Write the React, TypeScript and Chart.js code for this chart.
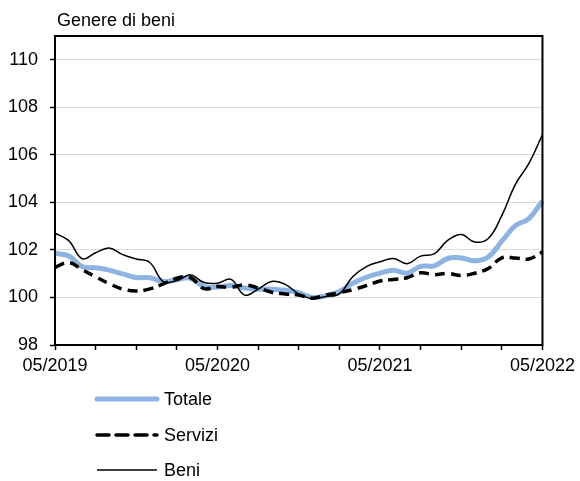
import React, { useEffect, useRef } from "react";
import { Chart, registerables } from "chart.js";

Chart.register(...registerables);

const months = [
  "05/2019", "06/2019", "07/2019", "08/2019", "09/2019", "10/2019", "11/2019", "12/2019",
  "01/2020", "02/2020", "03/2020", "04/2020", "05/2020", "06/2020", "07/2020", "08/2020",
  "09/2020", "10/2020", "11/2020", "12/2020", "01/2021", "02/2021", "03/2021", "04/2021",
  "05/2021", "06/2021", "07/2021", "08/2021", "09/2021", "10/2021", "11/2021", "12/2021",
  "01/2022", "02/2022", "03/2022", "04/2022", "05/2022",
];

const totale = [
  101.86, 101.75, 101.3, 101.25, 101.15, 100.99, 100.84, 100.83, 100.67, 100.75, 100.81, 100.46,
  100.44, 100.5, 100.4, 100.35, 100.35, 100.3, 100.2, 100.0, 100.07, 100.25, 100.6, 100.85,
  101.02, 101.15, 101.02, 101.31, 101.33, 101.64, 101.66, 101.54, 101.7, 102.37, 103.02, 103.32,
  104.06,
];

const servizi = [
  101.27, 101.47, 101.17, 100.87, 100.58, 100.35, 100.27, 100.36, 100.57, 100.81, 100.84, 100.37,
  100.46, 100.43, 100.53, 100.4, 100.22, 100.15, 100.1, 99.97, 100.1, 100.2, 100.33, 100.5,
  100.69, 100.76, 100.83, 101.04, 100.96, 101.01, 100.92, 101.02, 101.22, 101.67, 101.66, 101.62,
  101.91,
];

const beni = [
  102.7, 102.4, 101.63, 101.88, 102.08, 101.8, 101.62, 101.47, 100.67, 100.7, 100.95, 100.63,
  100.6, 100.76, 100.1, 100.35, 100.67, 100.55, 100.15, 99.95, 100.04, 100.15, 100.88, 101.3,
  101.5, 101.64, 101.42, 101.74, 101.83, 102.4, 102.65, 102.33, 102.48, 103.45, 104.76, 105.64,
  106.85,
];

const seriesNames = ["Totale", "Servizi", "Beni"];
const chartTitle = "Genere di beni";

const FONT = "'Liberation Sans', Arial, sans-serif";

const framePlugin = {
  id: "frameAndExtras",
  afterDraw(chart: any) {
    const { ctx, chartArea } = chart;
    ctx.save();
    // frame
    ctx.strokeStyle = "#000";
    ctx.lineWidth = 2;
    ctx.strokeRect(chartArea.left, chartArea.top, chartArea.right - chartArea.left, chartArea.bottom - chartArea.top);
    // title
    ctx.fillStyle = "#000";
    ctx.font = `18px ${FONT}`;
    ctx.textAlign = "left";
    ctx.textBaseline = "alphabetic";
    ctx.fillText(chartTitle, 57, 26);
    // legend
    const rows = [399, 435, 470];
    chart.data.datasets.forEach((ds: any, i: number) => {
      const y = rows[i];
      ctx.save();
      ctx.strokeStyle = ds.borderColor;
      ctx.lineWidth = ds.borderWidth;
      ctx.setLineDash(ds.legendDash || []);
      ctx.lineCap = ds.legendCap || "butt";
      ctx.beginPath();
      ctx.moveTo(97, y);
      ctx.lineTo(157, y);
      ctx.stroke();
      ctx.restore();
      ctx.fillStyle = "#000";
      ctx.font = `18px ${FONT}`;
      ctx.textBaseline = "middle";
      ctx.fillText(ds.label, 164, y + 1);
    });
    ctx.restore();
  },
};

export default function App() {
  const ref = useRef<HTMLCanvasElement>(null);

  useEffect(() => {
    if (!ref.current) return;
    const chart = new Chart(ref.current, {
      type: "line",
      data: {
        labels: months,
        datasets: [
          {
            label: seriesNames[0],
            data: totale,
            borderColor: "#8DB4E2",
            borderWidth: 5,
            pointRadius: 0,
            tension: 0.4,
            order: 3,
            legendCap: "round",
          } as any,
          {
            label: seriesNames[1],
            data: servizi,
            borderColor: "#000",
            borderWidth: 3.5,
            borderDash: [10, 6],
            pointRadius: 0,
            tension: 0.4,
            order: 2,
            legendDash: [12, 7],
            legendCap: "round",
          } as any,
          {
            label: seriesNames[2],
            data: beni,
            borderColor: "#000",
            borderWidth: 1.5,
            pointRadius: 0,
            tension: 0.4,
            order: 1,
          } as any,
        ],
      },
      options: {
        animation: false,
        responsive: false,
        devicePixelRatio: 1,
        layout: { padding: { left: 0, right: 37, top: 36, bottom: 101 } },
        plugins: {
          legend: { display: false },
          tooltip: { enabled: false },
          title: { display: false },
        },
        scales: {
          x: {
            type: "category",
            offset: false,
            grid: {
              display: true,
              drawOnChartArea: false,
              drawTicks: true,
              tickLength: 5,
              tickWidth: 1.5,
              tickColor: (c: any) => (c.index % 3 === 0 ? "#000" : "rgba(0,0,0,0)"),
            },
            border: { color: "#000", width: 2 },
            ticks: {
              autoSkip: false,
              maxRotation: 0,
              minRotation: 0,
              padding: 5,
              color: "#000",
              font: { family: FONT, size: 18 },
              callback: (_v: any, i: number) => (i % 12 === 0 ? months[i] : ""),
            },
            afterFit: (s: any) => {
              s.height = 35;
            },
          },
          y: {
            min: 98,
            max: 111,
            grid: {
              color: "#d9d9d9",
              lineWidth: 1,
              tickColor: "#000",
              tickLength: 5,
              tickWidth: 1.5,
            },
            border: { color: "#000", width: 2 },
            ticks: {
              stepSize: 2,
              includeBounds: false,
              padding: 12,
              color: "#000",
              font: { family: FONT, size: 18 },
            },
            afterFit: (s: any) => {
              s.width = 55;
            },
          },
        },
      },
      plugins: [framePlugin],
    });
    return () => chart.destroy();
  }, []);

  return (
    <div style={{ position: "fixed", left: 0, top: 0, width: 580, height: 481, background: "#fff" }}>
      <canvas ref={ref} width={580} height={481} style={{ width: 580, height: 481, display: "block" }} />
    </div>
  );
}
